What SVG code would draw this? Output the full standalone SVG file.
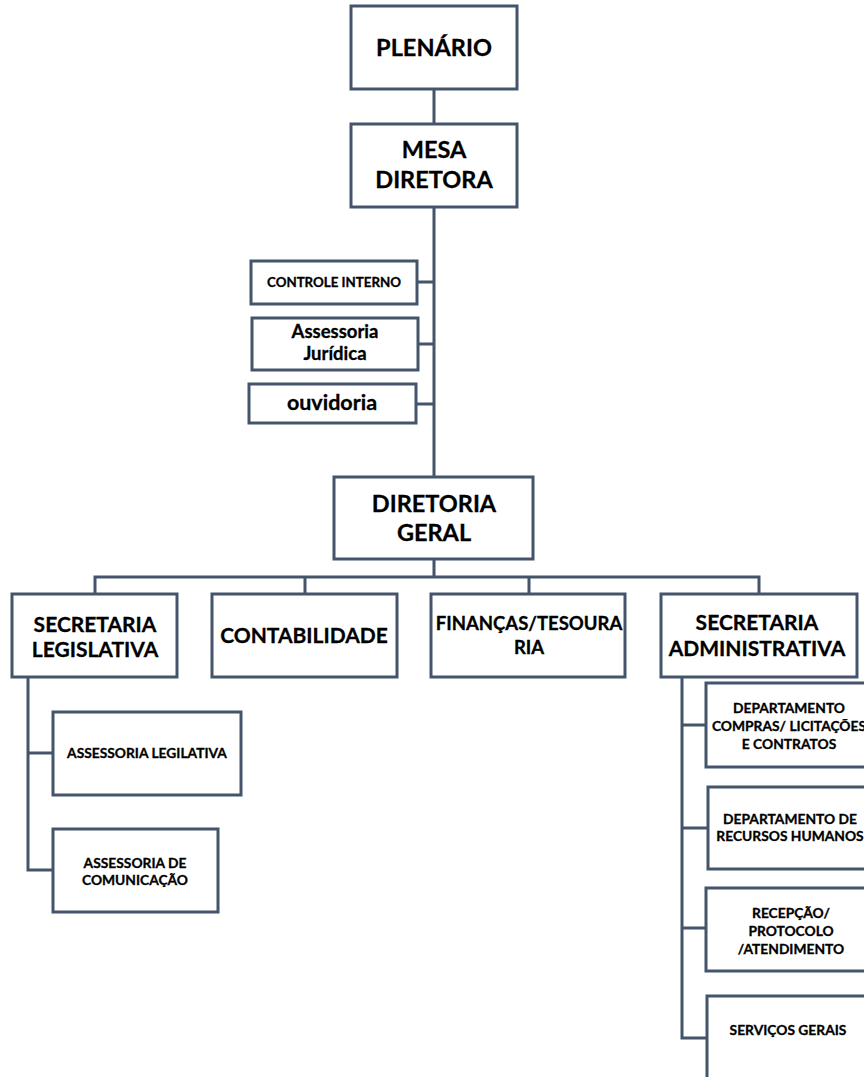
<svg xmlns="http://www.w3.org/2000/svg" width="864" height="1077" viewBox="0 0 864 1077">
<style>
.box{fill:#fff;stroke:#44546A;stroke-width:3}
.con{fill:none;stroke:#44546A;stroke-width:3}
text{font-family:Lato,"Open Sans","Liberation Sans",sans-serif;font-weight:bold;fill:#000;stroke:#000;stroke-width:0.3;text-anchor:middle}
.t1{font-size:23.5px}
.t2{font-size:21px}
.t2s{font-size:18.5px}
.t3{font-size:18.5px}
.t3b{font-size:21.5px}
.t4{font-size:13.3px}
.t5{font-size:13.8px}
</style>
<rect width="864" height="1077" fill="#fff"/>
<g id="connectors" class="con">
<path d="M434 89V124"/>
<path d="M434 207V477"/>
<path d="M417 282H434M418 344H434M416 404H434"/>
<path d="M434 559V577M95 594V577H759V594M305 577V594M529 577V594"/>
<path d="M28 677V870H53M28 753H53"/>
<path d="M682 677V1038H707M682 725H706M682 828H708M682 928H706"/>
</g>
<g id="plenario"><rect class="box" x="351" y="6" width="166" height="83"/><text class="t1" x="434" y="56">PLENÁRIO</text></g>
<g id="mesa"><rect class="box" x="351" y="124" width="166" height="83"/><text class="t1" x="434" y="158">MESA</text><text class="t1" x="434" y="188">DIRETORA</text></g>
<g id="controle"><rect class="box" x="251" y="261" width="166" height="43"/><text class="t4" x="334" y="287">CONTROLE INTERNO</text></g>
<g id="juridica"><rect class="box" x="252" y="318" width="166" height="52"/><text class="t3" x="335" y="338">Assessoria</text><text class="t3" x="335" y="360">Jurídica</text></g>
<g id="ouvidoria"><rect class="box" x="249" y="384" width="167" height="39"/><text class="t3b" x="332" y="410">ouvidoria</text></g>
<g id="diretoria"><rect class="box" x="334" y="477" width="199" height="82"/><text class="t1" x="434" y="512">DIRETORIA</text><text class="t1" x="434" y="541">GERAL</text></g>
<g id="sec-leg"><rect class="box" x="12" y="594" width="165" height="83"/><text class="t2" x="95" y="632">SECRETARIA</text><text class="t2" x="95" y="657">LEGISLATIVA</text></g>
<g id="contabilidade"><rect class="box" x="212" y="594" width="185" height="83"/><text class="t2" x="304" y="643">CONTABILIDADE</text></g>
<g id="financas"><rect class="box" x="431" y="594" width="194" height="83"/><text class="t2s" x="529" y="630">FINANÇAS/TESOURA</text><text class="t2s" x="529" y="654">RIA</text></g>
<g id="sec-adm"><rect class="box" x="661" y="594" width="196" height="83"/><text class="t2" x="757" y="630">SECRETARIA</text><text class="t2" x="757" y="656">ADMINISTRATIVA</text></g>
<g id="ass-leg"><rect class="box" x="53" y="712" width="188" height="83"/><text class="t5" x="147" y="758">ASSESSORIA LEGILATIVA</text></g>
<g id="ass-com"><rect class="box" x="53" y="829" width="165" height="83"/><text class="t5" x="135" y="868">ASSESSORIA DE</text><text class="t5" x="135" y="885">COMUNICAÇÃO</text></g>
<g id="compras"><rect class="box" x="706" y="683" width="170" height="84"/><text class="t5" x="789" y="713">DEPARTAMENTO</text><text class="t5" x="789" y="731">COMPRAS/ LICITAÇÕES</text><text class="t5" x="789" y="749">E CONTRATOS</text></g>
<g id="rh"><rect class="box" x="708" y="787" width="170" height="82"/><text class="t5" x="790" y="824">DEPARTAMENTO DE</text><text class="t5" x="790" y="841">RECURSOS HUMANOS</text></g>
<g id="recepcao"><rect class="box" x="706" y="888" width="170" height="83"/><text class="t5" x="791" y="918">RECEPÇÃO/</text><text class="t5" x="791" y="936">PROTOCOLO</text><text class="t5" x="791" y="954">/ATENDIMENTO</text></g>
<g id="servicos"><rect class="box" x="707" y="996" width="170" height="100"/><text class="t5" x="788" y="1035">SERVIÇOS GERAIS</text></g>
</svg>
